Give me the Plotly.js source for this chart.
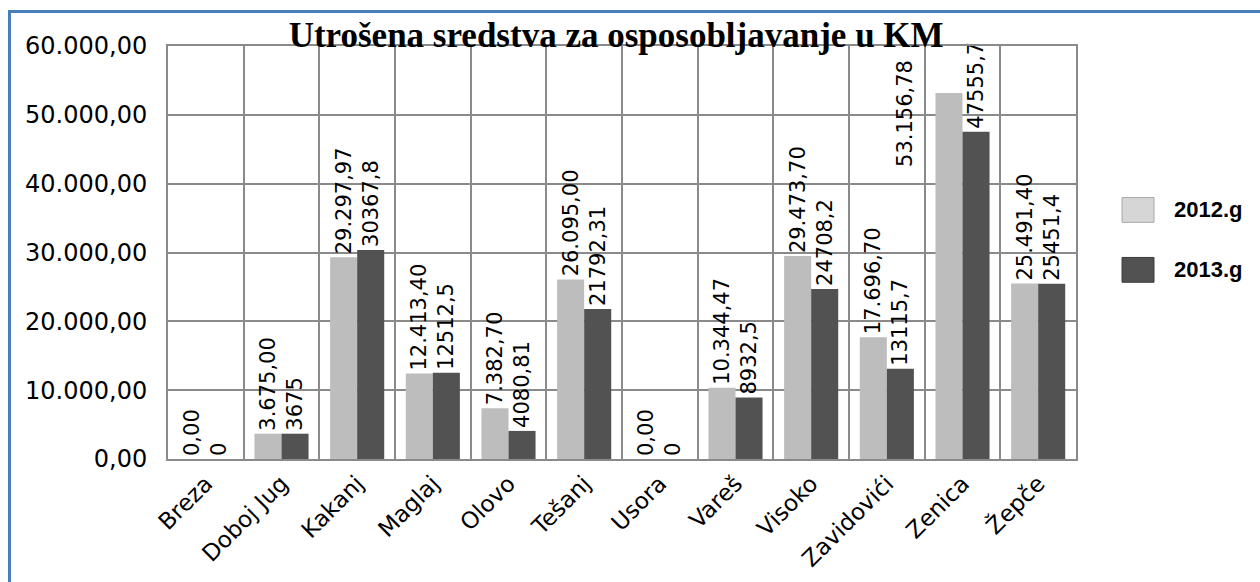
<!DOCTYPE html>
<html>
<head>
<meta charset="utf-8">
<script src="https://cdn.plot.ly/plotly-3.0.1.min.js"></script>
<style>
  body { margin: 0; background: #fff; }
  #wrap { position: relative; width: 1260px; height: 582px; overflow: hidden; }
  #plotlyChart { width: 1260px; height: 582px; }
  #frame {
    position: absolute; left: 8px; top: 10px; width: 1300px; height: 600px;
    border-top: 3px solid #4a7ebb; border-left: 3px solid #4a7ebb;
    pointer-events: none;
  }
</style>
</head>
<body>
<div id="wrap">
  <div id="plotlyChart"></div>
  <div id="frame"></div>
</div>
<script>
// Data
let cities   = ["Breza","Doboj Jug","Kakanj","Maglaj","Olovo","Tešanj","Usora","Vareš","Visoko","Zavidovići","Zenica","Žepče"]
let y2012    = [0, 3675.00, 29297.97, 12413.40, 7382.70, 26095.00, 0, 10344.47, 29473.70, 17696.70, 53156.78, 25491.40]
let y2013    = [0, 3675, 30367.8, 12512.5, 4080.81, 21792.31, 0, 8932.5, 24708.2, 13115.7, 47555.7, 25451.4]
let seriesNames  = ["2012.g", "2013.g"]
let seriesColors = ["#bdbdbd", "#525252"]

// the 2012 label that doesn't fit above its bar is moved beside it (like in the original)
let movedLabel = "Zenica"

let labelFont = { family: 'DejaVu Sans', size: 21, color: '#000' }

// 12345.678 -> "12.345,68"
function fmt2(v) {
    let parts = v.toFixed(2).split('.')
    return parts[0].replace(/\B(?=(\d{3})+(?!\d))/g, '.') + ',' + parts[1]
}

let trace2012 = {
    x: cities,
    y: y2012,
    type: 'bar',
    name: seriesNames[0],
    marker: { color: seriesColors[0], line: { width: 0 } },
    texttemplate: '%{y:,.2f}',
    textposition: cities.map(c => c == movedLabel ? 'none' : 'outside'),
    textangle: -90,
    textfont: labelFont,
    cliponaxis: false,
    constraintext: 'none',
    showlegend: false
};

let trace2013 = {
    x: cities,
    y: y2013,
    type: 'bar',
    name: seriesNames[1],
    marker: { color: seriesColors[1], line: { width: 0 } },
    texttemplate: '%{y:.2~f}',
    textposition: 'outside',
    textangle: -90,
    textfont: labelFont,
    cliponaxis: false,
    constraintext: 'none',
    showlegend: false
};

// hand-made legend (bigger swatches than plotly's own)
let shapes = []
let annotations = []
seriesNames.forEach((nm, i) => {
    let yc = 0.603 - i * 0.145
    shapes.push({
        type: 'rect', xref: 'paper', yref: 'paper',
        x0: 1.0507, x1: 1.0859, y0: yc - 0.03, y1: yc + 0.03,
        fillcolor: i == 0 ? '#d6d6d6' : seriesColors[i],
        line: { color: i == 0 ? '#a8a8a8' : '#3a3a3a', width: 1 }
    })
    annotations.push({
        xref: 'paper', yref: 'paper', x: 1.1057, y: yc,
        xanchor: 'left', yanchor: 'middle', showarrow: false,
        text: '<b>' + nm + '</b>',
        font: { family: 'Liberation Sans', size: 22, color: '#000' }
    })
})

let mi = cities.indexOf(movedLabel)
annotations.push({
    xref: 'x', yref: 'y', x: movedLabel, y: 50200,
    xshift: -57, showarrow: false, textangle: -90,
    xanchor: 'center', yanchor: 'middle',
    text: fmt2(y2012[mi]),
    font: labelFont
})

let layout = {
    width: 1260,
    height: 582,
    margin: { l: 168, r: 184, t: 46, b: 123 },
    paper_bgcolor: '#fff',
    plot_bgcolor: '#fff',
    separators: ',.',
    barmode: 'group',
    bargap: 0.285,
    bargroupgap: 0,
    title: {
        text: '<b>Utrošena sredstva za osposobljavanje u KM</b>',
        font: { family: 'Liberation Serif', size: 35, color: '#000' },
        xref: 'container', x: 0.489, xanchor: 'center',
        yref: 'container', y: 0.92, yanchor: 'bottom'
    },
    xaxis: {
        type: 'category',
        tickson: 'boundaries',
        showgrid: true, gridcolor: '#8a8a8a', gridwidth: 2,
        showline: true, mirror: true, linecolor: '#8a8a8a', linewidth: 2,
        ticks: '',
        tickangle: -45,
        tickfont: { family: 'DejaVu Sans', size: 23, color: '#000' }
    },
    yaxis: {
        range: [0, 60000],
        dtick: 10000,
        tickformat: ',.2f',
        showgrid: true, gridcolor: '#8a8a8a', gridwidth: 2,
        showline: true, mirror: true, linecolor: '#8a8a8a', linewidth: 2,
        zeroline: false,
        ticks: '',
        ticklabelstandoff: 14,
        tickfont: { family: 'DejaVu Sans', size: 24, color: '#000' }
    },
    shapes: shapes,
    annotations: annotations
};

Plotly.newPlot('plotlyChart', [trace2012, trace2013], layout, { displayModeBar: false, staticPlot: true });
</script>
</body>
</html>
